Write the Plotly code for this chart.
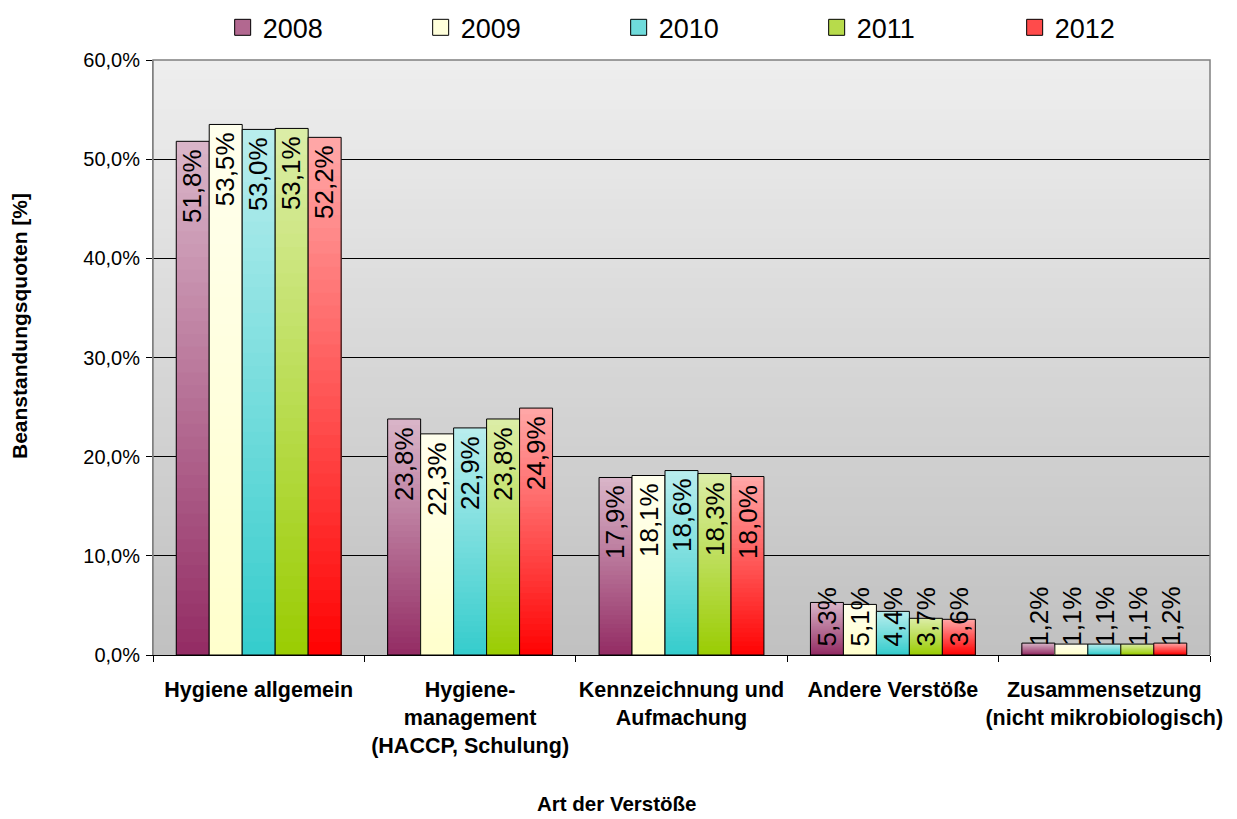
import plotly.graph_objects as go

# Categories and yearly complaint rates (percent)
categories = [
    "Hygiene allgemein",
    "Hygiene-<br>management<br>(HACCP, Schulung)",
    "Kennzeichnung und<br>Aufmachung",
    "Andere Verstöße",
    "Zusammensetzung<br>(nicht mikrobiologisch)",
]
years = ["2008", "2009", "2010", "2011", "2012"]

quoten_2008 = [51.8, 23.8, 17.9, 5.3, 1.2]
quoten_2009 = [53.5, 22.3, 18.1, 5.1, 1.1]
quoten_2010 = [53.0, 22.9, 18.6, 4.4, 1.1]
quoten_2011 = [53.1, 23.8, 18.3, 3.7, 1.1]
quoten_2012 = [52.2, 24.9, 18.0, 3.6, 1.2]

y_tick_values = [0, 10, 20, 30, 40, 50, 60]

series = {
    "2008": quoten_2008,
    "2009": quoten_2009,
    "2010": quoten_2010,
    "2011": quoten_2011,
    "2012": quoten_2012,
}

# Bottom colour of each bar; the top fades towards white
base_colors = {
    "2008": (146, 42, 98),
    "2009": (255, 255, 204),
    "2010": (51, 204, 204),
    "2011": (153, 204, 0),
    "2012": (255, 0, 0),
}

N_SLICES = 40
LIGHTEN = 0.65
BARGAP = 0.22
FONT = "Liberation Sans, Arial, sans-serif"


def mix(c, t):
    r, g, b = (round(ch + (255 - ch) * t) for ch in c)
    return f"rgb({r},{g},{b})"


def pct(v):
    return f"{v:.1f}%".replace(".", ",")


fig = go.Figure()

# Vertical gradient per bar: stacked-down overlays, lightest and tallest first
for year in years:
    vals = series[year]
    base = base_colors[year]
    for k in range(N_SLICES):
        frac = (N_SLICES - k) / N_SLICES
        fig.add_trace(go.Bar(
            x=categories, y=[v * frac for v in vals], offsetgroup=year,
            marker=dict(color=mix(base, LIGHTEN * frac), line=dict(width=0)),
            showlegend=False, hoverinfo="skip",
        ))
    fig.add_trace(go.Bar(
        x=categories, y=vals, offsetgroup=year, name=year,
        marker=dict(color="rgba(0,0,0,0)", line=dict(color="black", width=1)),
        showlegend=False,
    ))

# Legend swatches
for year in years:
    fig.add_trace(go.Scatter(
        x=[None], y=[None], mode="markers", name=year,
        marker=dict(symbol="square", size=18, color=mix(base_colors[year], LIGHTEN * 0.45),
                    line=dict(color="black", width=1)),
    ))

# Value labels, rotated, at the inner top of each bar
slot = (1 - BARGAP) / len(years)
annotations = []
for j, year in enumerate(years):
    for i, v in enumerate(series[year]):
        xpos = i + (j - (len(years) - 1) / 2) * slot
        if v >= 8:
            annotations.append(dict(x=xpos, y=v, xref="x", yref="y", text=pct(v),
                                    textangle=-90, showarrow=False, yanchor="top",
                                    xanchor="center", yshift=-6,
                                    font=dict(size=26, family=FONT, color="black")))
        else:
            annotations.append(dict(x=xpos, y=0, xref="x", yref="y", text=pct(v),
                                    textangle=-90, showarrow=False, yanchor="bottom",
                                    xanchor="center", yshift=7,
                                    font=dict(size=26, family=FONT, color="black")))

annotations.append(dict(text="Art der Verstöße", x=0.439, y=-0.249, xref="paper", yref="paper",
                        showarrow=False, xanchor="center", yanchor="middle",
                        font=dict(size=20.5, family=FONT, color="black", weight="bold")))
annotations.append(dict(text="Beanstandungsquoten [%]", x=-0.1258, y=0.553, xref="paper",
                        yref="paper", textangle=-90, showarrow=False, xanchor="center",
                        yanchor="middle",
                        font=dict(size=21, family=FONT, color="black", weight="bold")))

# Plot-area background gradient (light top, darker bottom)
shapes = []
BG_TOP, BG_BOTTOM = 238, 192
N_BG = 60
for k in range(N_BG):
    frac = (N_BG - k) / N_BG
    g = round(BG_BOTTOM + (BG_TOP - BG_BOTTOM) * frac)
    shapes.append(dict(type="rect", xref="paper", yref="paper", x0=0, x1=1, y0=0, y1=frac,
                       fillcolor=f"rgb({g},{g},{g})", line=dict(width=0), layer="below"))
# Grey frame on top, left and right of the plot area
shapes.append(dict(type="path", xref="paper", yref="paper", path="M0,0 L0,1 L1,1 L1,0",
                   line=dict(color="#808080", width=1.5), layer="above"))

fig.update_layout(
    width=1237, height=819,
    margin=dict(l=153, r=27, t=60, b=164, autoexpand=False),
    paper_bgcolor="white", plot_bgcolor="#c0c0c0",
    barmode="group", bargap=BARGAP, bargroupgap=0,
    font=dict(family=FONT, color="black"),
    showlegend=True,
    legend=dict(orientation="h", xref="container", yref="container", x=0.18, y=0.996,
                xanchor="left", yanchor="top",
                entrywidth=153, entrywidthmode="pixels", font=dict(size=27, family=FONT),
                bgcolor="rgba(0,0,0,0)", tracegroupgap=0),
    xaxis=dict(type="category", tickson="boundaries", ticks="outside", ticklen=6,
               tickcolor="black", showline=True, linecolor="black", linewidth=1,
               showgrid=False, ticklabelstandoff=15, tickangle=0, automargin=False,
               tickfont=dict(size=21.5, family=FONT, color="black", weight="bold")),
    yaxis=dict(range=[0, 60], tickvals=y_tick_values,
               ticktext=[pct(v) for v in y_tick_values],
               ticks="outside", ticklen=6, tickcolor="black", showgrid=True,
               gridcolor="black", gridwidth=1, showline=True, linecolor="#808080",
               zeroline=False, ticklabelstandoff=2, automargin=False,
               tickfont=dict(size=20, family=FONT, color="black")),
    annotations=annotations,
    shapes=shapes,
)

fig.write_html("out.html")
